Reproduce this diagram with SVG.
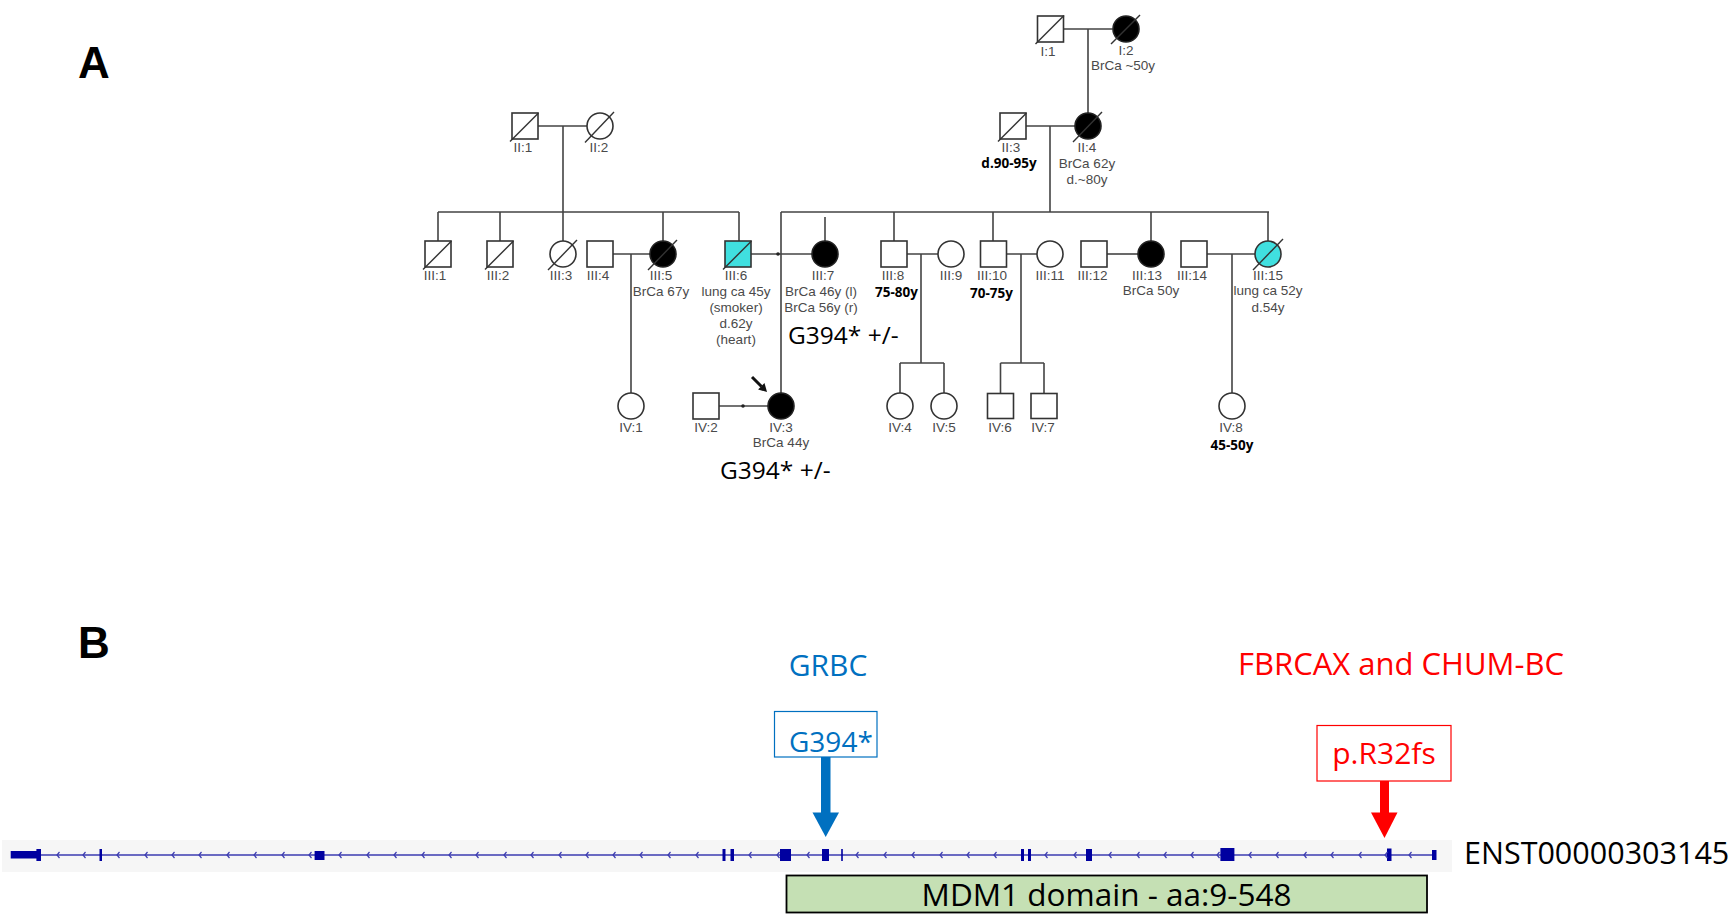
<svg xmlns="http://www.w3.org/2000/svg" width="1731" height="915" viewBox="0 0 1731 915">
<style>
.sym{fill:#fff;stroke:#333;stroke-width:1.6}
.aff{fill:#000;stroke:#222;stroke-width:1.6}
.cy{fill:#40e0e0;stroke:#333;stroke-width:1.6}
.sl{stroke:#333;stroke-width:1.4}
.ln{stroke:#444;stroke-width:1.6;fill:none}
.lb{font-family:"Liberation Sans",Arial,sans-serif;font-size:13.5px;fill:#4a4a4a;text-anchor:middle}
.bd{font-family:"Open Sans","Liberation Sans",sans-serif;font-weight:bold;font-size:13.5px;fill:#000;text-anchor:middle}
.gt{font-family:"Open Sans","Liberation Sans",sans-serif;font-size:24.5px;fill:#000}
.pl{font-family:"Liberation Sans",Arial,sans-serif;font-weight:bold;font-size:44px;fill:#000}
.ex{fill:#0000a0}
.ch{stroke:#3b3bb0;stroke-width:1.2;fill:none}
.bt{font-family:"Open Sans","Liberation Sans",sans-serif}
</style>
<defs>
<path id="chev" d="M2.5,-3 L0,0 L2.5,3" class="ch"/>
</defs>
<rect width="1731" height="915" fill="#fff"/>

<text class="pl" x="78" y="78">A</text>
<text class="pl" x="78" y="658">B</text>

<g id="connectors">
<path class="ln" d="M1063.5,29H1112.7M1088,29V113"/>
<path class="ln" d="M538,126H587M563,126V241M438,212H739M438,212V241M500,212V241M663,212V241M739,212V241"/>
<path class="ln" d="M1026,126H1075M1050,126V212M781,212H1269M894,212V241M993,212V241M1151,212V241M1268,212V241M825,217V241M781,212V393"/>
<path class="ln" d="M613,254H650M631,254V393"/>
<path class="ln" d="M751,254H812"/>
<circle cx="778" cy="254" r="1.8" fill="#222"/>
<path class="ln" d="M907,254H938M921,254V363M900,363H944M900,363V393M944,363V393"/>
<path class="ln" d="M1006,254H1037M1021,254V363M1000.5,363H1044M1000.5,363V393.5M1044,363V393.5"/>
<path class="ln" d="M1107,254H1138"/>
<path class="ln" d="M1207,254H1255M1232,254V393"/>
<path class="ln" d="M719,406H769"/>
<circle cx="743" cy="406" r="1.8" fill="#222"/>
<path d="M752,377L761.5,386.5" stroke="#111" stroke-width="3"/>
<polygon points="767,392 758.1,389.5 764.5,383.1" fill="#111"/>
</g>

<g id="I1"><rect class="sym" x="1037.5" y="16" width="26" height="26"/><line class="sl" x1="1035.5" y1="44" x2="1064" y2="15.5"/><text class="lb" x="1048" y="56">I:1</text></g>
<g id="I2"><circle class="aff" cx="1126" cy="29" r="13"/><line class="sl" x1="1111" y1="44" x2="1140" y2="15"/><text class="lb" x="1126" y="55">I:2</text><text class="lb" x="1123" y="70">BrCa ~50y</text></g>

<g id="II1"><rect class="sym" x="512" y="113" width="26" height="26"/><line class="sl" x1="510" y1="141.5" x2="538.5" y2="113"/><text class="lb" x="523" y="152">II:1</text></g>
<g id="II2"><circle class="sym" cx="600" cy="126" r="13"/><line class="sl" x1="585" y1="142.5" x2="614" y2="112"/><text class="lb" x="599" y="152">II:2</text></g>
<g id="II3"><rect class="sym" x="1000" y="113" width="26" height="26"/><line class="sl" x1="998" y1="141.5" x2="1026.5" y2="113"/><text class="lb" x="1011" y="152">II:3</text><text class="bd" x="1009" y="168">d.90-95y</text></g>
<g id="II4"><circle class="aff" cx="1088" cy="126" r="13"/><line class="sl" x1="1073" y1="142" x2="1102" y2="112"/><text class="lb" x="1087" y="152">II:4</text><text class="lb" x="1087" y="168">BrCa 62y</text><text class="lb" x="1087" y="184">d.~80y</text></g>

<g id="III1"><rect class="sym" x="425" y="241" width="26" height="26"/><line class="sl" x1="423" y1="269.5" x2="451.5" y2="241"/><text class="lb" x="435" y="280">III:1</text></g>
<g id="III2"><rect class="sym" x="487" y="241" width="26" height="26"/><line class="sl" x1="485" y1="269.5" x2="513.5" y2="241"/><text class="lb" x="498" y="280">III:2</text></g>
<g id="III3"><circle class="sym" cx="563" cy="254" r="13"/><line class="sl" x1="548" y1="270" x2="577" y2="240"/><text class="lb" x="561" y="280">III:3</text></g>
<g id="III4"><rect class="sym" x="587" y="241" width="26" height="26"/><text class="lb" x="598" y="280">III:4</text></g>
<g id="III5"><circle class="aff" cx="663" cy="254" r="13"/><line class="sl" x1="648" y1="270" x2="677" y2="240"/><text class="lb" x="661" y="280">III:5</text><text class="lb" x="661" y="296">BrCa 67y</text></g>
<g id="III6"><rect class="cy" x="725" y="241" width="26" height="26"/><line class="sl" x1="723" y1="269.5" x2="751.5" y2="241"/><text class="lb" x="736" y="280">III:6</text><text class="lb" x="736" y="296">lung ca 45y</text><text class="lb" x="736" y="312">(smoker)</text><text class="lb" x="736" y="328">d.62y</text><text class="lb" x="736" y="344">(heart)</text></g>
<g id="III7"><circle class="aff" cx="825" cy="254" r="13"/><text class="lb" x="823" y="280">III:7</text><text class="lb" x="821" y="296">BrCa 46y (l)</text><text class="lb" x="821" y="312">BrCa 56y (r)</text><text class="gt" x="788" y="344">G394* +/-</text></g>
<g id="III8"><rect class="sym" x="881" y="241" width="26" height="26"/><text class="lb" x="893" y="280">III:8</text><text class="bd" x="896.5" y="297">75-80y</text></g>
<g id="III9"><circle class="sym" cx="951" cy="254" r="13"/><text class="lb" x="951" y="280">III:9</text></g>
<g id="III10"><rect class="sym" x="980.5" y="241" width="26" height="26"/><text class="lb" x="992" y="280">III:10</text><text class="bd" x="991.5" y="298">70-75y</text></g>
<g id="III11"><circle class="sym" cx="1050" cy="254" r="13"/><text class="lb" x="1050" y="280">III:11</text></g>
<g id="III12"><rect class="sym" x="1081" y="241" width="26" height="26"/><text class="lb" x="1092.5" y="280">III:12</text></g>
<g id="III13"><circle class="aff" cx="1151" cy="254" r="13"/><text class="lb" x="1147" y="280">III:13</text><text class="lb" x="1151" y="295">BrCa 50y</text></g>
<g id="III14"><rect class="sym" x="1181" y="241" width="26" height="26"/><text class="lb" x="1192" y="280">III:14</text></g>
<g id="III15"><circle class="cy" cx="1268" cy="254" r="13"/><line class="sl" x1="1253" y1="270" x2="1283" y2="239"/><text class="lb" x="1268" y="280">III:15</text><text class="lb" x="1268" y="295">lung ca 52y</text><text class="lb" x="1268" y="312">d.54y</text></g>

<g id="IV1"><circle class="sym" cx="631" cy="406" r="13"/><text class="lb" x="631" y="432">IV:1</text></g>
<g id="IV2"><rect class="sym" x="693" y="393" width="26" height="26"/><text class="lb" x="706" y="432">IV:2</text></g>
<g id="IV3"><circle class="aff" cx="781" cy="406" r="13"/><text class="lb" x="781" y="432">IV:3</text><text class="lb" x="781" y="447">BrCa 44y</text><text class="gt" x="720" y="479">G394* +/-</text></g>
<g id="IV4"><circle class="sym" cx="900" cy="406" r="13"/><text class="lb" x="900" y="432">IV:4</text></g>
<g id="IV5"><circle class="sym" cx="944" cy="406" r="13"/><text class="lb" x="944" y="432">IV:5</text></g>
<g id="IV6"><rect class="sym" x="987.5" y="393.5" width="26" height="25"/><text class="lb" x="1000" y="432">IV:6</text></g>
<g id="IV7"><rect class="sym" x="1031" y="393.5" width="26" height="25"/><text class="lb" x="1043" y="432">IV:7</text></g>
<g id="IV8"><circle class="sym" cx="1232" cy="406" r="13"/><text class="lb" x="1231" y="432">IV:8</text><text class="bd" x="1232" y="450">45-50y</text></g>

<g id="transcript">
<rect x="2" y="840" width="1450" height="32" fill="#f6f6f6"/>
<line x1="38" y1="855" x2="1435" y2="855" stroke="#3b3bb0" stroke-width="1.3"/>
<rect class="ex" x="10.7" y="851" width="27.6" height="7.5"/>
<rect class="ex" x="36.4" y="849" width="4.6" height="12"/>
<rect class="ex" x="99.5" y="849" width="2.5" height="12"/>
<rect class="ex" x="314.6" y="851" width="9.9" height="9"/>
<rect class="ex" x="722.5" y="849" width="3" height="12"/>
<rect class="ex" x="730.5" y="849" width="3.5" height="12"/>
<rect class="ex" x="780" y="849" width="11" height="12"/>
<rect class="ex" x="822" y="849" width="7" height="12"/>
<rect class="ex" x="841.2" y="849" width="1.6" height="12"/>
<rect class="ex" x="1021" y="849" width="3" height="12"/>
<rect class="ex" x="1028" y="849" width="3" height="12"/>
<rect class="ex" x="1086" y="849" width="6" height="12"/>
<rect class="ex" x="1220.4" y="848" width="14" height="13"/>
<rect class="ex" x="1387" y="848.5" width="4.5" height="12.5"/>
<rect class="ex" x="1432" y="850" width="4.5" height="10"/>
<g>
<use href="#chev" x="57" y="855"/><use href="#chev" x="83" y="855"/><use href="#chev" x="117" y="855"/><use href="#chev" x="145" y="855"/><use href="#chev" x="172" y="855"/><use href="#chev" x="199" y="855"/><use href="#chev" x="227" y="855"/><use href="#chev" x="254" y="855"/><use href="#chev" x="282" y="855"/><use href="#chev" x="309" y="855"/><use href="#chev" x="339" y="855"/><use href="#chev" x="367" y="855"/><use href="#chev" x="394" y="855"/><use href="#chev" x="422" y="855"/><use href="#chev" x="449" y="855"/><use href="#chev" x="476" y="855"/><use href="#chev" x="504" y="855"/><use href="#chev" x="531" y="855"/><use href="#chev" x="559" y="855"/><use href="#chev" x="586" y="855"/><use href="#chev" x="613" y="855"/><use href="#chev" x="640" y="855"/><use href="#chev" x="668" y="855"/><use href="#chev" x="696" y="855"/><use href="#chev" x="749" y="855"/><use href="#chev" x="777" y="855"/><use href="#chev" x="807" y="855"/><use href="#chev" x="856" y="855"/><use href="#chev" x="884" y="855"/><use href="#chev" x="912" y="855"/><use href="#chev" x="940" y="855"/><use href="#chev" x="967" y="855"/><use href="#chev" x="994" y="855"/><use href="#chev" x="1045" y="855"/><use href="#chev" x="1074" y="855"/><use href="#chev" x="1109" y="855"/><use href="#chev" x="1137" y="855"/><use href="#chev" x="1164" y="855"/><use href="#chev" x="1191" y="855"/><use href="#chev" x="1217" y="855"/><use href="#chev" x="1249" y="855"/><use href="#chev" x="1276" y="855"/><use href="#chev" x="1304" y="855"/><use href="#chev" x="1331" y="855"/><use href="#chev" x="1359" y="855"/><use href="#chev" x="1385" y="855"/><use href="#chev" x="1409" y="855"/>
</g>
<text class="bt" x="1464" y="864" font-size="30.5" fill="#000">ENST00000303145</text>
</g>

<g id="mdm1">
<rect x="786.5" y="875.5" width="640.5" height="37" fill="#c5e0b4" stroke="#000" stroke-width="1.8"/>
<text class="bt" x="1106.5" y="906" font-size="31.5" fill="#000" text-anchor="middle">MDM1 domain - aa:9-548</text>
</g>

<g id="grbc">
<text class="bt" x="828" y="676" font-size="30" fill="#0070c0" text-anchor="middle">GRBC</text>
<rect x="774.5" y="711.5" width="102.5" height="45.5" fill="#fff" stroke="#0070c0" stroke-width="1.2"/>
<text class="bt" x="789" y="752" font-size="28" fill="#0070c0">G394*</text>
<rect x="821" y="757" width="9.5" height="56" fill="#0070c0"/>
<polygon points="812.5,812.5 839,812.5 825.7,837" fill="#0070c0"/>
</g>

<g id="fbrcax">
<text class="bt" x="1401" y="675" font-size="31" fill="#ff0000" text-anchor="middle">FBRCAX and CHUM-BC</text>
<rect x="1317" y="725.5" width="134" height="55.5" fill="#fff" stroke="#ff0000" stroke-width="1.2"/>
<text class="bt" x="1384" y="764" font-size="30" fill="#ff0000" text-anchor="middle">p.R32fs</text>
<rect x="1380" y="781" width="9" height="32" fill="#ff0000"/>
<polygon points="1371,812.5 1397.5,812.5 1384.5,838" fill="#ff0000"/>
</g>
</svg>
